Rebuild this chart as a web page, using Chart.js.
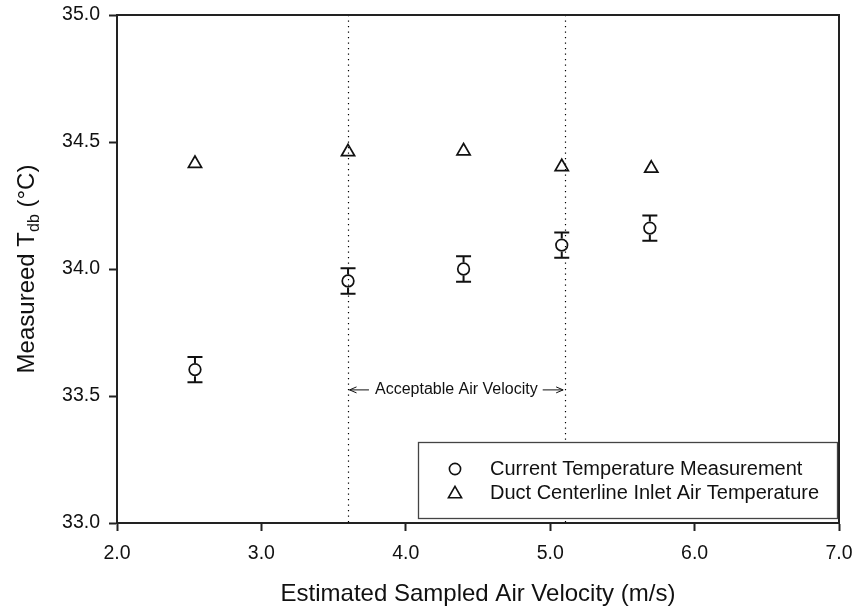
<!DOCTYPE html>
<html><head><meta charset="utf-8">
<script src="https://cdn.jsdelivr.net/npm/chart.js@4/dist/chart.umd.min.js"></script>
<style>html,body{margin:0;padding:0;background:#fff}canvas{display:block}</style>
</head><body>
<canvas id="c" width="855" height="609"></canvas>
<script>
// ---- data ----
const velocity = [2.54, 3.60, 4.40, 5.08, 5.69];
const measuredTdb = [33.604, 33.953, 34.000, 34.094, 34.161];
const measuredErr = [0.05, 0.05, 0.05, 0.05, 0.05];
const inletVelocity = [2.54, 3.60, 4.40, 5.08, 5.70];
const inletTdb = [34.415, 34.461, 34.464, 34.402, 34.396];
const velocityLimits = [3.6, 5.1];
const annotationLabel = 'Acceptable Air Velocity';
const annotationY = 33.524;
const seriesLabels = ['Current Temperature Measurement', 'Duct Centerline Inlet Air Temperature'];
const xTitle = 'Estimated Sampled Air Velocity (m/s)';
const yTitleParts = ['Measureed T', 'db', ' (°C)'];
const xRange = [2, 7];
const yRange = [33, 35];

const FONT = 'Liberation Sans, Arial, sans-serif';
const INK = '#111';

function circlePath(ctx, x, y, r) { ctx.beginPath(); ctx.arc(x, y, r, 0, Math.PI * 2); ctx.stroke(); }
function trianglePath(ctx, x, y, r) {
  ctx.beginPath();
  for (let k = 0; k < 3; k++) {
    const a = k * 2 * Math.PI / 3;
    const px = x + Math.sin(a) * r, py = y - Math.cos(a) * r;
    if (k === 0) ctx.moveTo(px, py); else ctx.lineTo(px, py);
  }
  ctx.closePath(); ctx.stroke();
}

const extras = {
  id: 'extras',
  beforeDatasetsDraw(chart) {
    const { ctx, chartArea: ca, scales: { x } } = chart;
    ctx.save();
    ctx.strokeStyle = '#000'; ctx.lineWidth = 1.2; ctx.setLineDash([1.3, 4.2]);
    velocityLimits.forEach(v => {
      const px = Math.round(x.getPixelForValue(v)) + 0.5;
      ctx.beginPath(); ctx.moveTo(px, ca.top); ctx.lineTo(px, ca.bottom); ctx.stroke();
    });
    ctx.restore();
  },
  afterDatasetsDraw(chart) {
    const { ctx, chartArea: ca, scales: { x, y } } = chart;
    ctx.save();
    ctx.strokeStyle = '#111'; ctx.lineWidth = 2;
    const r = 6.6, cap = 7.5;
    velocity.forEach((v, i) => {
      const px = x.getPixelForValue(v);
      const py = y.getPixelForValue(measuredTdb[i]);
      const pt = y.getPixelForValue(measuredTdb[i] + measuredErr[i]);
      const pb = y.getPixelForValue(measuredTdb[i] - measuredErr[i]);
      ctx.beginPath();
      ctx.moveTo(px, py - r); ctx.lineTo(px, pt);
      ctx.moveTo(px - cap, pt); ctx.lineTo(px + cap, pt);
      ctx.moveTo(px, py + r); ctx.lineTo(px, pb);
      ctx.moveTo(px - cap, pb); ctx.lineTo(px + cap, pb);
      ctx.stroke();
    });
    const xl = x.getPixelForValue(velocityLimits[0]);
    const xr = x.getPixelForValue(velocityLimits[1]);
    const ay = y.getPixelForValue(annotationY);
    ctx.font = '16px ' + FONT; ctx.fillStyle = INK;
    ctx.textAlign = 'center'; ctx.textBaseline = 'middle';
    const mid = (xl + xr) / 2;
    ctx.fillText(annotationLabel, mid, ay);
    const tw = ctx.measureText(annotationLabel).width;
    ctx.lineWidth = 1; ctx.strokeStyle = '#111';
    const a1 = xl + 1.5, b1 = mid - tw / 2 - 6;
    const a2 = xr - 1.5, b2 = mid + tw / 2 + 5;
    ctx.beginPath();
    ctx.moveTo(b1, ay); ctx.lineTo(a1, ay);
    ctx.moveTo(a1 + 7, ay - 3); ctx.lineTo(a1, ay); ctx.lineTo(a1 + 7, ay + 3);
    ctx.moveTo(b2, ay); ctx.lineTo(a2, ay);
    ctx.moveTo(a2 - 7, ay - 3); ctx.lineTo(a2, ay); ctx.lineTo(a2 - 7, ay + 3);
    ctx.stroke();
    ctx.restore();
  },
  afterDraw(chart) {
    const { ctx, chartArea: ca } = chart;
    ctx.save();
    ctx.strokeStyle = '#222'; ctx.lineWidth = 2;
    ctx.beginPath(); ctx.moveTo(ca.left - 1, ca.top); ctx.lineTo(ca.right, ca.top); ctx.lineTo(ca.right, ca.bottom); ctx.stroke();
    const lx = 418, ly = 442, lw = 419, lh = 76;
    ctx.fillStyle = '#fff'; ctx.fillRect(lx, ly, lw, lh);
    ctx.strokeStyle = '#444'; ctx.lineWidth = 1.3; ctx.strokeRect(lx + 0.5, ly + 0.5, lw, lh);
    ctx.strokeStyle = '#111'; ctx.lineWidth = 1.6;
    circlePath(ctx, 455, 469, 5.6);
    trianglePath(ctx, 455, 494, 7.6);
    ctx.fillStyle = INK; ctx.font = '20px ' + FONT;
    ctx.textAlign = 'left'; ctx.textBaseline = 'middle';
    ctx.fillText(seriesLabels[0], 490, 469);
    ctx.fillText(seriesLabels[1], 490, 493);
    ctx.translate(25, (ca.top + ca.bottom) / 2);
    ctx.rotate(-Math.PI / 2);
    const f1 = '24px ' + FONT, f2 = '16px ' + FONT;
    ctx.font = f1; const w1 = ctx.measureText(yTitleParts[0]).width, w3 = ctx.measureText(yTitleParts[2]).width;
    ctx.font = f2; const w2 = ctx.measureText(yTitleParts[1]).width;
    let sx = -(w1 + w2 + w3) / 2;
    ctx.textBaseline = 'alphabetic'; ctx.textAlign = 'left';
    ctx.font = f1; ctx.fillText(yTitleParts[0], sx, 8.5); sx += w1;
    ctx.font = f2; ctx.fillText(yTitleParts[1], sx, 13.5); sx += w2;
    ctx.font = f1; ctx.fillText(yTitleParts[2], sx, 8.5);
    ctx.restore();
  }
};

const tickFont = { family: FONT, size: 19.5 };

new Chart(document.getElementById('c'), {
  type: 'scatter',
  data: {
    datasets: [
      { label: seriesLabels[0], data: velocity.map((v, i) => ({ x: v, y: measuredTdb[i] })),
        pointStyle: 'circle', pointRadius: 5.8, pointBorderWidth: 1.7, borderColor: '#111', backgroundColor: 'rgba(0,0,0,0)' },
      { label: seriesLabels[1], data: inletVelocity.map((v, i) => ({ x: v, y: inletTdb[i] })),
        pointStyle: 'triangle', pointRadius: 7.6, pointBorderWidth: 1.7, borderColor: '#111', backgroundColor: 'rgba(0,0,0,0)' }
    ]
  },
  options: {
    responsive: false, animation: false,
    layout: { padding: { top: 15, right: 16, left: 0, bottom: 0 } },
    plugins: { legend: { display: false }, tooltip: { enabled: false } },
    scales: {
      x: {
        type: 'linear', min: xRange[0], max: xRange[1],
        ticks: { stepSize: 1, color: INK, font: tickFont, padding: 11, maxRotation: 0, callback: v => v.toFixed(1) },
        grid: { drawOnChartArea: false, tickLength: 8, tickWidth: 2, tickColor: '#222' },
        border: { display: true, width: 2, color: '#222' },
        title: { display: true, text: xTitle, color: INK, font: { family: FONT, size: 24 }, padding: { top: 0, bottom: 0 } },
        afterFit: s => { s.height = 86; s.paddingLeft = 0; s.paddingRight = 0; }
      },
      y: {
        type: 'linear', min: yRange[0], max: yRange[1],
        ticks: { stepSize: 0.5, color: INK, font: tickFont, padding: 9, callback: v => v.toFixed(1) },
        grid: { drawOnChartArea: false, tickLength: 8, tickWidth: 2, tickColor: '#222' },
        border: { display: true, width: 2, color: '#222' },
        afterFit: s => { s.width = 117; s.paddingTop = 0; s.paddingBottom = 0; }
      }
    }
  },
  plugins: [extras]
});
</script>
</body></html>
